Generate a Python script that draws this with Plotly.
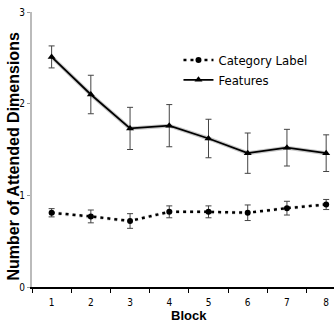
import plotly.graph_objects as go

blocks = [1, 2, 3, 4, 5, 6, 7, 8]
features = [2.51, 2.10, 1.73, 1.76, 1.62, 1.46, 1.52, 1.46]
features_err = [0.12, 0.21, 0.23, 0.23, 0.21, 0.22, 0.20, 0.20]
category = [0.81, 0.77, 0.72, 0.82, 0.82, 0.81, 0.86, 0.90]
category_err = [0.045, 0.07, 0.08, 0.065, 0.065, 0.085, 0.075, 0.055]
y_ticks = [0, 1, 2, 3]

cond = "DejaVu Sans Condensed, Liberation Sans Narrow, Arial Narrow, sans-serif"
bold = "Liberation Sans, Arial, sans-serif"

fig = go.Figure()

# soft shadows under the lines
fig.add_trace(go.Scatter(x=blocks, y=features, mode="lines",
                         line=dict(color="rgba(0,0,0,0.22)", width=4),
                         showlegend=False, hoverinfo="skip"))
fig.add_trace(go.Scatter(x=blocks, y=category, mode="lines",
                         line=dict(color="rgba(0,0,0,0.12)", width=4, dash="3px,4px"),
                         showlegend=False, hoverinfo="skip"))

fig.add_trace(go.Scatter(
    x=blocks, y=category, name="Category Label", mode="lines+markers",
    line=dict(color="black", width=2.5, dash="3px,4px"),
    marker=dict(symbol="circle", size=6, color="black"),
    error_y=dict(type="data", array=category_err, color="#444", thickness=1, width=3),
))
fig.add_trace(go.Scatter(
    x=blocks, y=features, name="Features", mode="lines+markers",
    line=dict(color="black", width=1.8),
    marker=dict(symbol="triangle-up", size=7, color="black"),
    error_y=dict(type="data", array=features_err, color="#444", thickness=1, width=3),
))

fig.update_layout(
    width=334, height=322,
    margin=dict(l=32, r=0, t=12, b=35),
    paper_bgcolor="white", plot_bgcolor="white",
    font=dict(family=cond, size=10, color="black"),
    legend=dict(x=0.485, y=0.88, xanchor="left", yanchor="top",
                font=dict(size=13, family=cond), bgcolor="rgba(0,0,0,0)",
                tracegroupgap=0, itemwidth=30),
    annotations=[
        dict(text="<b>Block</b>", x=4.5, xref="x", y=0, yref="paper",
             xanchor="center", yanchor="top", yshift=-19, showarrow=False,
             font=dict(size=13, family=bold)),
        dict(text="<b>Number of Attended Dimensions</b>", x=0, xref="paper",
             y=0.5, yref="paper", xshift=-19, yshift=-7, textangle=-90,
             xanchor="center", yanchor="middle", showarrow=False,
             font=dict(size=16, family=bold)),
    ],
)

fig.update_xaxes(
    range=[0.5, 8.2], tickvals=blocks, ticktext=[str(b) for b in blocks],
    ticks="", showgrid=False, zeroline=False, automargin=False,
    showline=True, linecolor="black", linewidth=1.5,
    tickfont=dict(size=10), ticklabelstandoff=5,
    minor=dict(tick0=0.5, dtick=1, ticks="outside", ticklen=4, tickcolor="black", showgrid=False),
)
fig.update_yaxes(
    range=[0, 3], tickvals=y_ticks, ticks="outside", ticklen=3, tickcolor="#999",
    showgrid=False, zeroline=False, showline=True, linecolor="#bbb", linewidth=2,
    tickfont=dict(size=10), automargin=False,
)

fig.write_html("out.html", config={"displayModeBar": False},
               post_script="document.body.style.margin='0';document.body.style.overflow='hidden';")
